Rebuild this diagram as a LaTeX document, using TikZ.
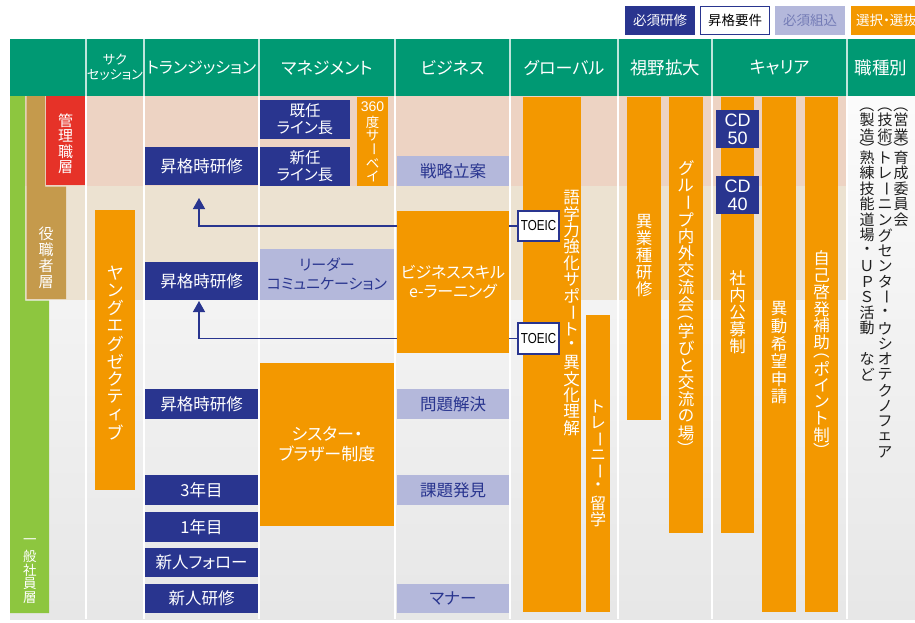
\documentclass[tikz,border=0pt]{standalone}
\usepackage{fontspec}
\usepackage{graphicx}
\setmainfont{Noto Sans CJK JP}[RawFeature=+palt]
\newfontfamily\arialf{Liberation Sans}
\usetikzlibrary{arrows.meta}
\definecolor{navy}{RGB}{41,53,143}
\definecolor{org}{RGB}{243,152,0}
\definecolor{lav}{RGB}{180,184,219}
\definecolor{hdr}{RGB}{0,153,115}
\definecolor{pinkb}{RGB}{237,211,195}
\definecolor{beigeb}{RGB}{236,226,209}
\definecolor{redl}{RGB}{230,50,40}
\definecolor{tanl}{RGB}{197,154,76}
\definecolor{greenl}{RGB}{141,198,63}
\newcommand\fs[1]{\fontsize{#1}{#1}\selectfont}
\ExplSyntaxOn
\dim_new:N \l_vt_pitch_dim
\tl_new:N \l_vt_pf_tl
\cs_new_protected:Npn \vt_cell:nn #1#2
  {
    \hbox_to_wd:nn {1em}
      { \hss \vbox_to_ht:nn { #1 \l_vt_pitch_dim } { \vss \hbox:n {#2} \vss } \hss }
  }
\cs_new_protected:Npn \vt_char:n #1
  {
    \str_case:nnF {#1}
      {
        {ー}{ \vt_cell:nn {1} { \rotatebox[origin=c]{-90}{ー} } }
        {（}{ \vt_cell:nn { \l_vt_pf_tl } { \rotatebox[origin=c]{-90}{（} } }
        {）}{ \vt_cell:nn { \l_vt_pf_tl } { \rotatebox[origin=c]{-90}{）} } }
      }
      { \vt_cell:nn {1} {#1} }
  }
\NewDocumentCommand \vt { O{17} O{0.55} m }
  {
    \dim_set:Nn \l_vt_pitch_dim { #1 pt }
    \tl_set:Nn \l_vt_pf_tl {#2}
    \vbox:n { \offinterlineskip \tl_map_function:nN {#3} \vt_char:n }
  }
\ExplSyntaxOff
\newcommand\bx[7]{\node[#1, minimum width={#5-#3}, minimum height={#6-#4}] (#2) at ({(#3+#5)/2},{(#4+#6)/2}) {#7};}
\tikzset{
  base/.style={inner sep=0pt, outer sep=0pt, draw=none, align=center},
  navybox/.style={base, fill=navy, text=white, font=\fs{16.5}},
  lavbox/.style={base, fill=lav, text=navy, font=\fs{16.5}},
  orgbox/.style={base, fill=org, text=white, font=\fs{16}},
  reqbox/.style={base, fill=white, draw=navy, line width=1.4pt, text=black},
  vl/.style={inner sep=0pt, outer sep=0pt, anchor=north},
  hd/.style={inner sep=0pt, text=white, font=\fs{17}, align=center},
  arr/.style={navy, line width=1.4pt, -{Triangle[width=12pt,length=11pt]}},
}
\begin{document}
\begin{tikzpicture}[x=1pt,y=-1pt]
\useasboundingbox (0,0) rectangle (915,622);
\fill[white] (0,0) rectangle (915,622);
% body background
\shade[top color=gray!3, bottom color=gray!19] (10,96) rectangle (915,619);
\fill[pinkb] (10,96) rectangle (847,186);
\fill[beigeb] (10,186) rectangle (847,300);
\foreach \x in {86,144,259,395,510,618,712,847}
  \draw[white, line width=2pt] (\x,96) -- (\x,619);
% header
\fill[hdr] (10,39) rectangle (915,96);
\foreach \x in {86,144,259,395,510,618,712,847}
  \draw[white!75!hdr, line width=1.5pt] (\x,39) -- (\x,96);
\node[hd, font={\fontsize{13}{15.5}\selectfont}] (h2) at (115,67) {サク\\セッション};
\node[hd, font=\fs{16}] (h3) at (201.5,68) {トランジッション};
\node[hd] (h4) at (327,68) {マネジメント};
\node[hd] (h5) at (452.5,68) {ビジネス};
\node[hd] (h6) at (564,68) {グローバル};
\node[hd, font=\fs{17.5}] (h7) at (665,68) {視野拡大};
\node[hd] (h8) at (779.5,68) {キャリア};
\node[hd, font=\fs{17.5}] (h9) at (881,68) {職種別};
% left level labels
\fill[greenl] (10,96) -- (25,96) -- (25,300.5) -- (49,300.5) -- (49,613) -- (10,613) -- cycle;
\fill[tanl] (26.5,96) -- (45,96) -- (45,186.5) -- (66,186.5) -- (66,299) -- (26.5,299) -- cycle;
\fill[redl] (46,96) rectangle (85,185);
\node[vl, text=white, font=\fs{15}] (lk) at (65.5,113) {\vt[15.5]{管理職層}};
\node[vl, text=white, font=\fs{15}] (ly) at (46,226) {\vt[16]{役職者層}};
\node[vl, text=white, font=\fs{13.5}] (lg) at (30,535) {\vt[14]{一般社員層}};
% global column
\bx{orgbox}{gg}{523}{97}{581}{612}{}
\node[vl, text=white, font=\fs{16.5}] (ggt) at (571.5,189) {\vt[16.5]{語学力強化サポート・異文化理解}};
\bx{orgbox}{tr}{586}{315}{610}{612}{}
\node[vl, text=white, font=\fs{16}] (trt) at (598,399) {\vt[16]{トレーニー・留学}};
\bx{reqbox, font=\arialf\fs{14.5}}{toeic1}{518}{211}{559}{241}{\scalebox{0.8}[1]{TOEIC}}
\bx{reqbox, font=\arialf\fs{14.5}}{toeic2}{518}{323}{559}{354}{\scalebox{0.8}[1]{TOEIC}}
% arrows
\coordinate (a1) at (199,198);
\coordinate (a2) at (199,301);
\draw[arr] (toeic1.west) -| (a1);
\draw[arr] (toeic2.west) -| (a2);
% transition column
\bx{navybox}{sk1}{145}{147}{258}{185}{昇格時研修}
\bx{navybox}{sk2}{145}{262}{258}{300}{昇格時研修}
\bx{navybox}{sk3}{145}{389}{258}{419}{昇格時研修}
\bx{navybox}{y3}{145}{475}{258}{505}{3年目}
\bx{navybox}{y1}{145}{512}{258}{542}{1年目}
\bx{navybox}{nf}{145}{548}{258}{577}{新人フォロー}
\bx{navybox}{nk}{145}{584}{258}{613}{新人研修}
% succession
\bx{orgbox}{ye}{95}{210}{135}{490}{}
\node[vl, text=white, font=\fs{17}] (yet) at (115,264) {\vt[17.7]{ヤングエグゼクティブ}};
% management
\bx{navybox, font={\fontsize{15.5}{17}\selectfont}}{kn}{260}{100}{350}{139}{既任\\ライン長}
\bx{navybox, font={\fontsize{15.5}{17}\selectfont}}{sn}{260}{147}{350}{186}{新任\\ライン長}
\bx{orgbox}{sv}{357}{97}{388}{186}{}
\node[inner sep=0pt, text=white, font=\arialf\fs{14}] (sv3) at (372.5,106.5) {360};
\node[vl, text=white, font=\fs{13.5}] (svt) at (372.5,115.5) {\vt[13.6]{度サーベイ}};
\bx{lavbox, font={\fontsize{15}{19}\selectfont}}{ld}{260}{249}{394}{300}{リーダー\\コミュニケーション}
\bx{orgbox, font={\fontsize{17}{20}\selectfont}}{sb}{260}{363}{394}{526}{シスター・\\ブラザー制度}
% business
\bx{lavbox}{sr}{397}{156}{509}{186}{戦略立案}
\bx{orgbox, font={\fontsize{16}{19}\selectfont}}{bs}{397}{211}{509}{353}{ビジネススキル\\e-ラーニング}
\bx{lavbox}{mk}{397}{389}{509}{419}{問題解決}
\bx{lavbox}{kh}{397}{475}{509}{505}{課題発見}
\bx{lavbox}{mn}{397}{584}{509}{613}{マナー}
% broaden view
\bx{orgbox}{ig}{627}{97}{661}{420}{}
\node[vl, text=white, font=\fs{16.5}] (igt) at (644,213) {\vt[17]{異業種研修}};
\bx{orgbox}{gr}{669}{97}{703}{533}{}
\node[vl, text=white, font=\fs{16.5}] (grt) at (686,160) {\vt[17]{グループ内外交流会（学びと交流の場）}};
% career
\bx{orgbox}{kb}{721}{97}{754}{533}{}
\node[vl, text=white, font=\fs{16.5}] (kbt) at (737.5,270) {\vt[17]{社内公募制}};
\bx{navybox, font={\arialf\fontsize{18}{18}\selectfont}}{cd50}{716}{110}{759}{148}{CD\\50}
\bx{navybox, font={\arialf\fontsize{18}{18}\selectfont}}{cd40}{716}{176}{759}{214}{CD\\40}
\bx{orgbox}{id}{762}{97}{796}{612}{}
\node[vl, text=white, font=\fs{16.5}] (idt) at (779,300) {\vt[17.5]{異動希望申請}};
\bx{orgbox}{jk}{805}{97}{838}{612}{}
\node[vl, text=white, font=\fs{16.5}] (jkt) at (821.5,250) {\vt[16.8]{自己啓発補助（ポイント制）}};
% by job type
\node[vl, text=black!88, font=\fs{15}] (c91) at (901,106) {\vt[15.5][0.42]{（営業）育成委員会}};
\node[vl, text=black!88, font=\fs{15}] (c92) at (885,106) {\vt[15.5][0.42]{（技術）トレーニングセンター・ウシオテクノフェア}};
\node[vl, text=black!88, font=\fs{15}] (c93) at (867,106) {\vt[15.5][0.42]{（製造）熟練技能道場・ＵＰＳ活動　など}};
% legend
\bx{navybox, font=\fs{13.5}}{lg1}{625}{6}{695}{35}{必須研修}
\bx{reqbox, font=\fs{13.5}}{lg2}{700.7}{6.7}{769.3}{34.3}{昇格要件}
\bx{lavbox, text=navy!65, font=\fs{13.5}}{lg3}{775}{6}{845}{35}{必須組込}
\bx{orgbox}{lg4}{851}{6}{935}{35}{}
\node[anchor=west, inner sep=0pt, text=white, font=\fs{13.5}] (lg4t) at (856,20.5) {選択・選抜};
\end{tikzpicture}
\end{document}
